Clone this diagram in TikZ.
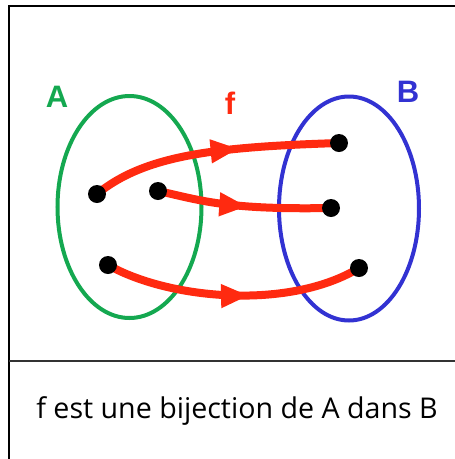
\documentclass[tikz,border=0pt]{standalone}
\usepackage{fontspec}
\setmainfont{Open Sans}
\newfontfamily\lblfont{Liberation Sans}
\usetikzlibrary{arrows.meta,decorations.markings,backgrounds}
\definecolor{cgreen}{RGB}{20,168,80}
\definecolor{cblue}{RGB}{50,50,210}
\definecolor{cred}{RGB}{255,42,16}
\begin{document}
\begin{tikzpicture}[x=1pt,y=-1pt,
  dot/.style={circle,fill=black,inner sep=0pt,minimum size=18pt},
  setell/.style={line width=4pt},
  maparrow/.style={cred,line width=8pt,line cap=round,
    postaction={decorate},
    decoration={markings,mark=at position #1 with {\arrow{Triangle[length=28pt,width=22pt]}}}},
  lbl/.style={font=\lblfont\bfseries\fontsize{31}{31}\selectfont}]
\useasboundingbox (0,0) rectangle (455,459);
% dots
\node[dot] (a1) at (97,194) {};
\node[dot] (a2) at (158,191) {};
\node[dot] (a3) at (108,265) {};
\node[dot] (b1) at (339,143) {};
\node[dot] (b2) at (331,208) {};
\node[dot] (b3) at (359,268) {};
\begin{scope}[on background layer]
% frame
\draw[line width=2pt] (9,459) -- (9,6) -- (456,6);
\draw[line width=1.5pt,black!80] (9,361) -- (456,361);
% sets
\draw[setell,cgreen] (129.5,207) ellipse [x radius=72, y radius=111];
\draw[setell,cblue] (349,208.5) ellipse [x radius=70, y radius=112];
% arrows
\draw[maparrow=0.6] (a1.center) .. controls (145,155) and (215,147) .. (b1.center);
\draw[maparrow=0.52] (a2.center) .. controls (200,200) and (225,210) .. (b2.center);
\draw[maparrow=0.56] (a3.center) .. controls (170,300) and (290,310) .. (b3.center);
\end{scope}
% labels
\node[lbl,text=cgreen] (la) at (57,97) {A};
\node[lbl,text=cred] (lf) at (230,103) {f};
\node[lbl,text=cblue] (lb) at (408,92) {B};
% caption
\node[font=\fontsize{28.6}{28.6}\selectfont,anchor=base] (cap) at (237,418) {f est une bijection de A dans B};
\end{tikzpicture}
\end{document}
